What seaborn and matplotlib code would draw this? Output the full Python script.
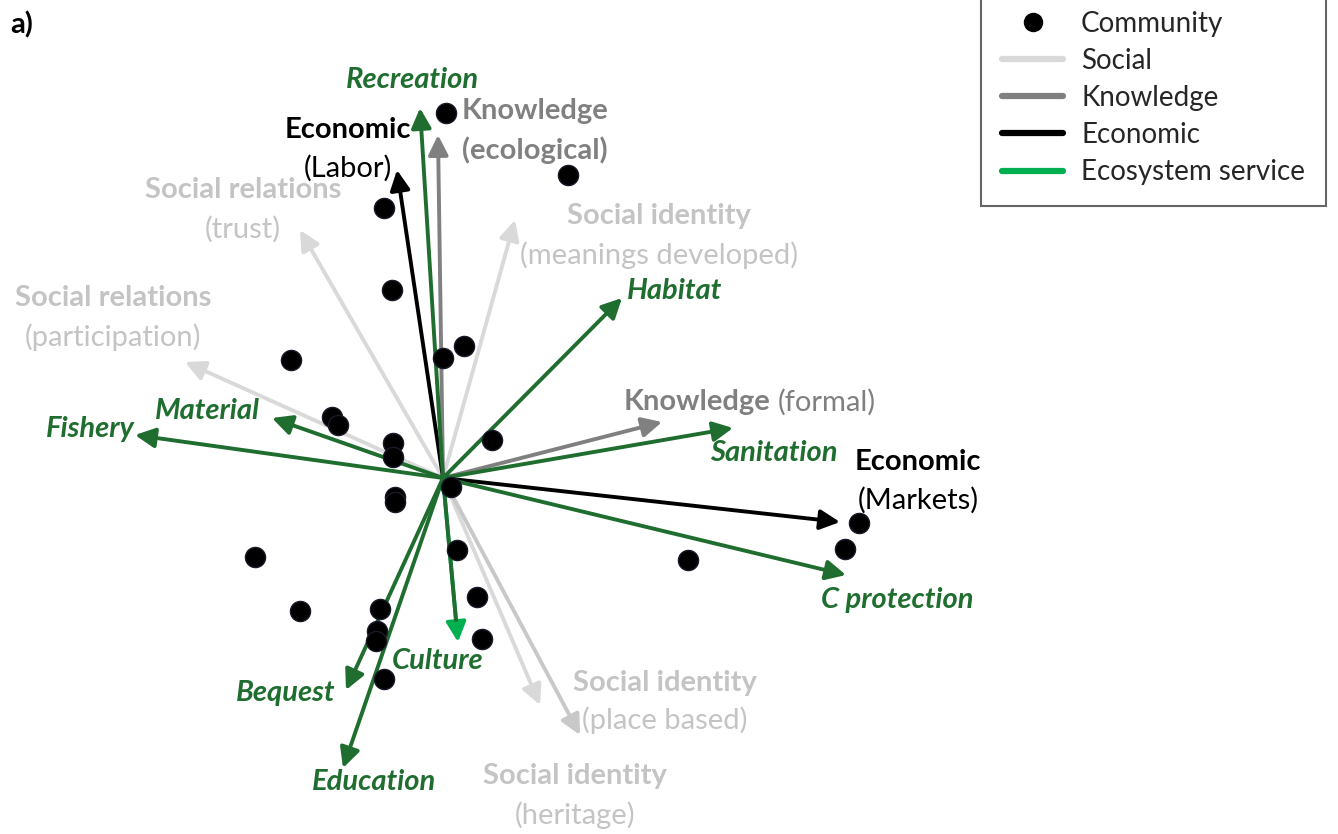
import matplotlib
matplotlib.use("Agg")
import matplotlib.pyplot as plt
import numpy as np
import pandas as pd
import seaborn as sns
from matplotlib.lines import Line2D

# community scores (ordination axes 1 and 2)
comm_x = [0.03, 1.25, -0.59, -0.51, 0.21, 0.00, -1.52, -1.11, -1.05, 0.49, -0.50, -0.50,
          0.08, -0.48, -0.48, 4.16, 4.02, 2.45, 0.14, -1.88, -1.43, 0.34, -0.63, -0.66,
          -0.67, 0.39, -0.59]
comm_y = [3.65, 3.03, 2.70, 1.88, 1.32, 1.20, 1.18, 0.61, 0.53, 0.38, 0.35, 0.21,
          -0.09, -0.19, -0.24, -0.45, -0.71, -0.82, -0.72, -0.79, -1.33, -1.19, -1.31, -1.53,
          -1.63, -1.61, -2.01]

# variable loadings (arrow tips)
var_names = ["SR trust", "SR participation", "SI meanings", "SI heritage", "SI place",
             "K ecological", "K formal", "E labor", "E markets",
             "Recreation", "Habitat", "Material", "Fishery", "Sanitation", "C protection",
             "Bequest", "Education", "Culture"]
var_group = ["Social"] * 5 + ["Knowledge"] * 2 + ["Economic"] * 2 + ["Ecosystem service"] * 9
var_x = [-1.43, -2.58, 0.72, 0.97, 1.37,
         -0.05, 2.19, -0.46, 3.97,
         -0.23, 1.79, -1.71, -3.08, 2.90, 4.03, -0.97, -1.00, 0.15]
var_y = [2.48, 1.16, 2.58, -2.27, -2.57,
         3.43, 0.56, 3.08, -0.44,
         3.70, 1.80, 0.60, 0.43, 0.50, -0.97, -2.12, -2.90, -1.64]

GREEN = "#1f6e2f"
colors = {"Social": "#d9d9d9", "Knowledge": "#808080", "Economic": "#000000",
          "Ecosystem service": GREEN}
legend_colors = {"Social": "#d9d9d9", "Knowledge": "#808080", "Economic": "#000000",
                 "Ecosystem service": "#00b050"}
LGRAY = "#c4c4c4"
MGRAY = "#808080"

sns.set_style("white")
plt.rcParams["font.family"] = ["Lato", "DejaVu Sans"]

fig = plt.figure(figsize=(13.38, 8.34), dpi=100)
ax = fig.add_axes([0, 0, 1, 1])
ax.set_xlim(-4.43, 8.95)
ax.set_ylim(-3.56, 4.78)
ax.axis("off")

LW = 2.8
MS = 30
loadings = pd.DataFrame({"name": var_names, "group": var_group, "x": var_x, "y": var_y})
for _, r in loadings.iterrows():
    col = colors[r["group"]]
    if r["name"] == "SI place":
        col = "#c8c8c8"
    if r["name"] == "Culture":
        ax.annotate("", xy=(r.x, r.y), xytext=(0, 0),
                    arrowprops=dict(arrowstyle="-|>", color="#00b050", lw=LW,
                                    mutation_scale=MS, shrinkA=0, shrinkB=0))
        d = np.hypot(r.x, r.y)
        ax.annotate("", xy=(r.x * (1 - 0.22 / d), r.y * (1 - 0.22 / d)), xytext=(0, 0),
                    arrowprops=dict(arrowstyle="-", color=GREEN, lw=LW,
                                    shrinkA=0, shrinkB=0))
        continue
    ax.annotate("", xy=(r.x, r.y), xytext=(0, 0),
                arrowprops=dict(arrowstyle="-|>", color=col, lw=LW,
                                mutation_scale=MS, shrinkA=0, shrinkB=0))

comm = pd.DataFrame({"x": comm_x, "y": comm_y})
sns.scatterplot(data=comm, x="x", y="y", ax=ax, color="black", s=210,
                edgecolor="#1a1a2a", linewidth=1, zorder=5, legend=False)

FS = 21
green_kw = dict(color=GREEN, fontsize=FS, fontweight="bold", fontstyle="italic",
                ha="center", va="center")
for txt, x, y in [("Recreation", -0.31, 3.98), ("Habitat", 2.32, 1.87),
                  ("Material", -2.36, 0.67), ("Fishery", -3.53, 0.49),
                  ("Sanitation", 3.31, 0.25), ("C protection", 4.54, -1.22),
                  ("Culture", -0.05, -1.83), ("Bequest", -1.57, -2.15),
                  ("Education", -0.69, -3.04)]:
    ax.text(x, y, txt, **green_kw)

# two-line labels: bold title + normal qualifier
two_line = [("Knowledge", "(ecological)", MGRAY, 0.19, 3.67, 3.28, "left", True),
            ("Economic", "(Labor)", "black", -0.95, 3.48, 3.10, "center", False),
            ("Social relations", "(trust)", LGRAY, -2.00, 2.88, 2.49, "center", False),
            ("Social identity", "(meanings developed)", LGRAY, 2.16, 2.62, 2.23, "center", False),
            ("Social relations", "(participation)", LGRAY, -3.30, 1.80, 1.41, "center", False),
            ("Economic", "(Markets)", "black", 4.75, 0.16, -0.22, "center", False),
            ("Social identity", "(place based)", LGRAY, 2.22, -2.05, -2.42, "center", False),
            ("Social identity", "(heritage)", LGRAY, 1.32, -2.98, -3.37, "center", False)]
for top, bottom, col, x, y1, y2, ha, bold2 in two_line:
    ax.text(x, y1, top, color=col, fontsize=FS, fontweight="bold", ha=ha, va="center")
    ax.text(x, y2, bottom, color=col, fontsize=FS, fontweight="bold" if bold2 else "normal",
            ha=ha, va="center")

ax.text(1.81, 0.76, "Knowledge", color=MGRAY, fontsize=FS, fontweight="bold",
        ha="left", va="center")
ax.text(3.35, 0.76, "(formal)", color=MGRAY, fontsize=FS, ha="left", va="center")

ax.text(-4.33, 4.53, "a)", color="black", fontsize=FS, fontweight="bold",
        ha="left", va="center")

handles = [Line2D([], [], marker="o", color="black", linestyle="none", markersize=13)]
for g in ["Social", "Knowledge", "Economic", "Ecosystem service"]:
    handles.append(Line2D([], [], color=legend_colors[g], lw=4.5))
leg = ax.legend(handles, ["Community", "Social", "Knowledge", "Economic", "Ecosystem service"],
                loc="upper right", bbox_to_anchor=(0.991, 1.012), fontsize=20,
                frameon=True, fancybox=False, handlelength=2.2, handletextpad=0.65,
                labelspacing=0.4, borderpad=0.75, borderaxespad=0)
leg.get_frame().set_edgecolor("#404040")
leg.get_frame().set_linewidth(1.5)

fig.savefig("out.png", dpi=100)
